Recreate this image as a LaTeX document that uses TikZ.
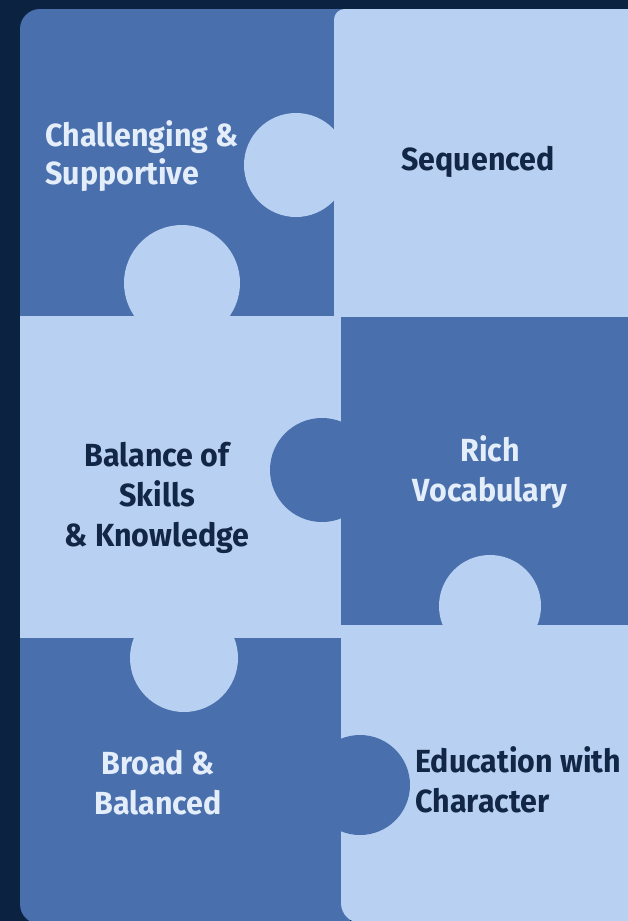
\documentclass[tikz,border=0pt]{standalone}
\usepackage{fontspec}
\setmainfont{Fira Sans}[FakeStretch=0.95]
\definecolor{navy}{RGB}{11,35,64}
\definecolor{pieceblue}{RGB}{74,111,173}
\definecolor{piecelight}{RGB}{184,208,242}
\definecolor{inkdark}{RGB}{18,38,70}
\definecolor{inklight}{RGB}{228,237,250}

\tikzset{every picture/.style={line width=0.75pt}}
\tikzset{
  darkpiece/.style={draw=none, fill=pieceblue, fill opacity=1},
  lightpiece/.style={draw=none, fill=piecelight, fill opacity=1},
  darklabel/.style={text=inkdark, font=\bfseries\fontsize{24}{30}\selectfont},
  lightlabel/.style={text=inklight, font=\bfseries\fontsize{24}{30}\selectfont}
}

\begin{document}
\begin{tikzpicture}[x=0.75pt,y=0.75pt,yscale=-1,xscale=1]
\useasboundingbox (0,0) rectangle (628,921);
\clip (0,0) rectangle (628,921);

%Shape: Rectangle [background]
\draw [fill=navy, draw=none] (0,0) -- (628,0) -- (628,921) -- (0,921) -- cycle ;

%Shape: Piece [challenging]
\draw [darkpiece] (180,9) [rounded corners=15pt] -- (20,9) -- (20,160) [sharp corners] -- (20,317) -- (345,317) -- (345,9) -- cycle ;
%Shape: Piece [sequenced]
\draw [lightpiece] (480,9) [rounded corners=8pt] -- (334,9) -- (334,160) [sharp corners] -- (334,317) -- (640,317) -- (640,9) -- cycle ;
%Shape: Circle [sequenced tab]
\draw [lightpiece] (296,165) circle [radius=52] ;

%Shape: Rectangle [balance]
\draw [lightpiece] (20,316) -- (341,316) -- (341,638) -- (20,638) -- cycle ;
%Shape: Circle [balance tab up]
\draw [lightpiece] (182,283) circle [radius=58] ;

%Shape: Rectangle [vocabulary]
\draw [darkpiece] (341,317) -- (640,317) -- (640,625) -- (341,625) -- cycle ;
%Shape: Circle [vocabulary tab]
\draw [darkpiece] (322,470) circle [radius=52] ;

%Shape: Piece [broad]
\draw [darkpiece] (20,780) [rounded corners=15pt] -- (20,924) -- (180,924) [sharp corners] -- (350,924) -- (350,638) -- (20,638) -- cycle ;
%Shape: Circle [balance tab down]
\draw [lightpiece] (184,658) circle [radius=54] ;

%Shape: Piece [character]
\draw [lightpiece] (341,780) [rounded corners=15pt] -- (341,923) -- (480,923) [sharp corners] -- (640,923) -- (640,625) -- (341,625) -- cycle ;
%Shape: Circle [character tab]
\draw [lightpiece] (490,606) circle [radius=51] ;
%Shape: Circle [broad tab]
\draw [darkpiece] (360,785) circle [radius=50] ;

% Text Node
\draw (45,156) node (challenging) [lightlabel, anchor=west, align=left, inner sep=0pt, font=\bfseries\fontsize{24}{28}\selectfont] {Challenging \&\\Supportive};
% Text Node
\draw (478,170) node (sequenced) [darklabel, anchor=base] {Sequenced};
% Text Node
\draw (157,498) node (balance) [darklabel, align=center] {Balance of\\Skills\\\& Knowledge};
% Text Node
\draw (490,472) node (vocabulary) [lightlabel, align=center] {Rich\\Vocabulary};
% Text Node
\draw (158,783) node (broad) [lightlabel, align=center] {Broad \&\\Balanced};
% Text Node
\draw (415,780) node (character) [darklabel, anchor=west, align=left, inner sep=0pt] {Education with\\Character};

\end{tikzpicture}
\end{document}
